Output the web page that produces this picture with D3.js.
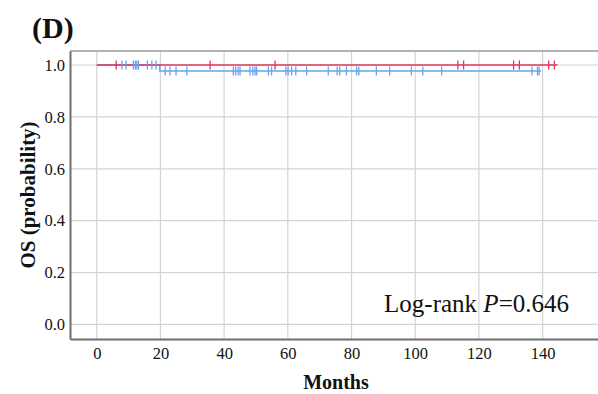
<!DOCTYPE html>
<html lang="en">
  <head>
    <meta charset="UTF-8" />
    <title>OS Kaplan-Meier (D)</title>
    <script src="https://d3js.org/d3.v7.min.js"></script>
    <style>
      body { margin: 0; background: #fff; }
      svg text { font-family: "Liberation Serif", "Times New Roman", serif; fill: #111; }
    </style>
  </head>
  <body>
    <div id="chart"></div>
    <script>
      const width = 598,
        height = 394;

      // survival steps: [month, probability]
      const redSteps = [[0, 1.0], [144.7, 1.0]];
      const blueSteps = [[0, 1.0], [19.8, 1.0], [19.8, 0.977], [139.5, 0.977]];

      // censored times
      const redCensor = [6.1, 35.6, 56, 113.4, 115.2, 130.9, 132.7, 141.9, 143.7];
      const blueCensorHigh = [7.9, 9.2, 11.5, 12.1, 12.6, 13.1, 15.9, 17.3, 18.6];
      const blueCensorLow = [21.5, 23, 24.9, 28.3, 42.9, 43.6, 44.4, 45, 48.1, 49, 49.7, 50.2,
        53.9, 54.9, 59.4, 60.1, 61.2, 62.5, 65.9, 72.7, 75.5, 76.3, 78.4, 81.6, 82.3,
        87.8, 92, 98.8, 102.4, 108.3, 136.7, 138.4, 138.9];

      const xTicks = [0, 20, 40, 60, 80, 100, 120, 140];
      const yTicks = [0, 0.2, 0.4, 0.6, 0.8, 1.0];

      const svg = d3.select("#chart").append("svg")
        .attr("width", width).attr("height", height);

      const x = d3.scaleLinear().domain([-8.4, 157.4]).range([70, 598]);
      const y = d3.scaleLinear().domain([-0.056, 1.054]).range([339, 51]);

      // grid
      svg.append("g").selectAll("line").data(xTicks).join("line")
        .attr("x1", d => x(d)).attr("x2", d => x(d))
        .attr("y1", 51).attr("y2", 339)
        .attr("stroke", "#d4d4d4").attr("stroke-width", 1.2);
      svg.append("g").selectAll("line").data(yTicks).join("line")
        .attr("x1", 70).attr("x2", 598)
        .attr("y1", d => y(d)).attr("y2", d => y(d))
        .attr("stroke", "#d4d4d4").attr("stroke-width", 1.2);

      // frame top
      svg.append("line").attr("x1", 70).attr("x2", 598).attr("y1", 51).attr("y2", 51)
        .attr("stroke", "#9a9a9a").attr("stroke-width", 1.5);

      // axes
      const xAxis = svg.append("g").attr("transform", "translate(0,339)")
        .call(d3.axisBottom(x).tickValues(xTicks).tickSize(0).tickPadding(8));
      const yAxis = svg.append("g").attr("transform", "translate(70,0)")
        .call(d3.axisLeft(y).tickValues(yTicks).tickSize(0).tickPadding(5).tickFormat(d3.format(".1f")));
      [xAxis, yAxis].forEach(a => {
        a.select(".domain").attr("stroke", "#6e6e6e").attr("stroke-width", 2);
        a.selectAll("text").attr("font-size", 16.5).attr("fill", "#111");
      });

      // curves
      const line = d3.line().x(d => x(d[0])).y(d => y(d[1]));
      const red = "#df3760", blue = "#68a4ee";
      svg.append("path").attr("d", line(blueSteps)).attr("fill", "none")
        .attr("stroke", blue).attr("stroke-width", 1.5);
      svg.append("path").attr("d", line(redSteps)).attr("fill", "none")
        .attr("stroke", red).attr("stroke-width", 1.5);

      function censor(data, level, color) {
        svg.append("g").selectAll("line").data(data).join("line")
          .attr("x1", d => x(d)).attr("x2", d => x(d))
          .attr("y1", y(level) - 4.5).attr("y2", y(level) + 4.5)
          .attr("stroke", color).attr("stroke-width", 1.3);
      }
      censor(blueCensorHigh, 1.0, blue);
      censor(blueCensorLow, 0.977, blue);
      censor(redCensor, 1.0, red);

      // texts
      svg.append("text").attr("x", 32).attr("y", 38)
        .attr("font-size", 30).attr("font-weight", "bold").text("(D)");
      svg.append("text").attr("x", 336).attr("y", 389).attr("text-anchor", "middle")
        .attr("font-size", 20).attr("font-weight", "bold").text("Months");
      svg.append("text").attr("transform", "translate(35,195) rotate(-90)")
        .attr("text-anchor", "middle").attr("font-size", 21).attr("font-weight", "bold")
        .text("OS (probability)");
      const lr = svg.append("text").attr("x", 569).attr("y", 312).attr("text-anchor", "end")
        .attr("font-size", 25);
      lr.append("tspan").text("Log-rank ");
      lr.append("tspan").attr("font-style", "italic").text("P");
      lr.append("tspan").text("=0.646");
    </script>
  </body>
</html>
